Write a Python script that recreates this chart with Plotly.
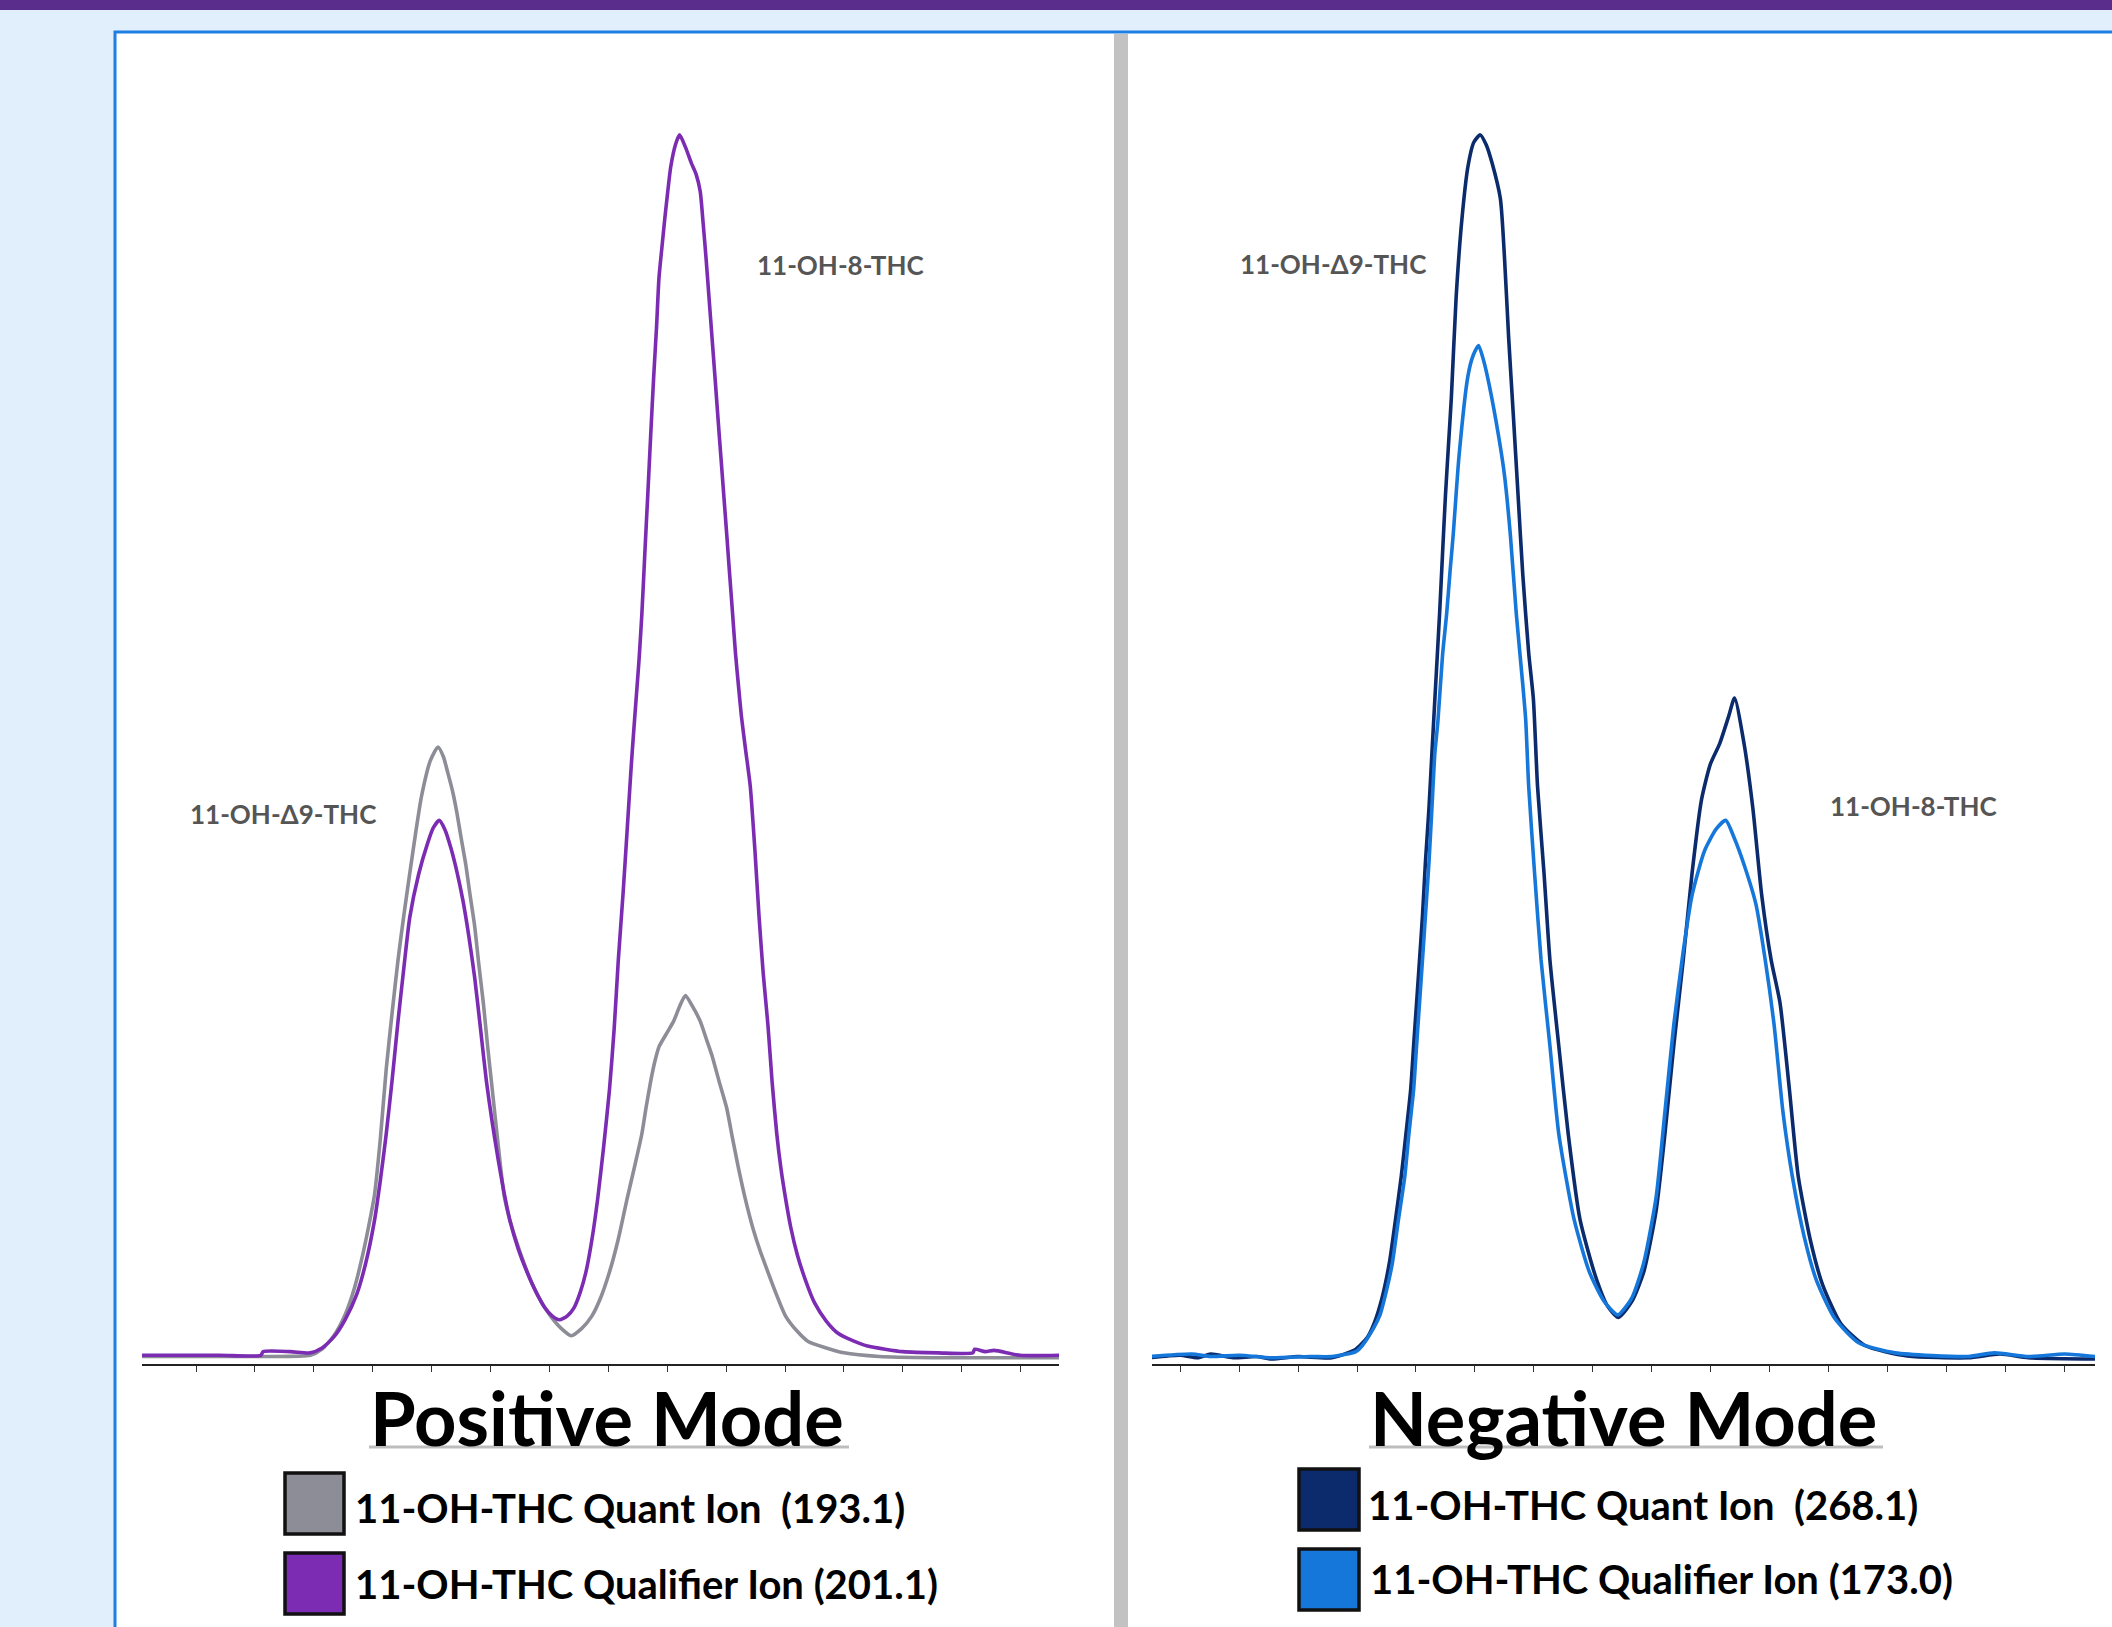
import plotly.graph_objects as go

W, H = 2112, 1627

# ---------------- data (x in tick units, y in % of tallest peak) ----------------
pos_quant_x = [-0.95, 1.10, 1.94, 2.14, 2.34, 2.53, 2.69, 2.83, 2.93, 3.03, 3.13, 3.23, 3.33, 3.43,
               3.53, 3.63, 3.73, 3.83, 3.98, 4.11, 4.20, 4.28, 4.36, 4.43, 4.50, 4.58, 4.65, 4.73,
               4.80, 4.88, 4.95, 5.03, 5.13, 5.23, 5.32, 5.42, 5.57, 5.72, 5.87, 6.02, 6.20, 6.37,
               6.55, 6.72, 6.87, 7.02, 7.17, 7.32, 7.45, 7.57, 7.64, 7.72, 7.79, 7.86, 7.99, 8.11,
               8.21, 8.31, 8.43, 8.56, 8.66, 8.76, 8.88, 9.01, 9.11, 9.21, 9.33, 9.46, 9.58, 9.71,
               9.86, 10.01, 10.20, 10.40, 10.70, 11.00, 11.60, 12.50, 14.67]
pos_quant_y = [0.2, 0.2, 0.3, 0.8, 1.9, 3.6, 5.8, 8.5, 10.8, 13.4, 18.0, 23.7, 28.3, 32.6,
               36.3, 39.7, 43.0, 46.0, 48.9, 50.0, 49.2, 47.8, 46.3, 44.6, 42.6, 40.4, 38.0, 35.4,
               32.3, 29.0, 25.6, 22.0, 17.5, 13.4, 11.5, 9.9, 7.8, 6.0, 4.6, 3.5, 2.5, 1.9,
               2.5, 3.5, 5.0, 7.1, 9.8, 13.1, 15.8, 18.4, 20.5, 22.7, 24.3, 25.5, 26.6, 27.6,
               28.8, 29.7, 28.8, 27.6, 26.2, 24.8, 22.7, 20.5, 18.0, 15.6, 13.0, 10.6, 8.8, 7.1,
               5.2, 3.5, 2.3, 1.4, 0.9, 0.5, 0.2, 0.1, 0.1]

pos_qual_x = [-0.95, 0.40, 1.10, 1.14, 1.60, 1.94, 2.14, 2.34, 2.53, 2.73, 2.88, 3.03, 3.13, 3.23,
              3.33, 3.43, 3.53, 3.63, 3.78, 3.93, 4.03, 4.13, 4.23, 4.33, 4.43, 4.53, 4.63, 4.73,
              4.83, 4.93, 5.03, 5.13, 5.23, 5.33, 5.47, 5.62, 5.77, 5.92, 6.05, 6.17, 6.30, 6.42,
              6.52, 6.62, 6.72, 6.82, 6.92, 7.02, 7.10, 7.17, 7.25, 7.32, 7.39, 7.45, 7.52, 7.57,
              7.62, 7.67, 7.72, 7.77, 7.82, 7.86, 7.91, 7.96, 8.01, 8.06, 8.14, 8.21, 8.31, 8.41,
              8.49, 8.56, 8.61, 8.66, 8.71, 8.76, 8.81, 8.86, 8.91, 8.96, 9.01, 9.06, 9.11, 9.16,
              9.21, 9.26, 9.33, 9.41, 9.49, 9.56, 9.63, 9.71, 9.78, 9.86, 9.93, 10.01, 10.10, 10.21,
              10.35, 10.50, 10.70, 10.90, 11.15, 11.40, 11.70, 12.00, 12.60, 13.19, 13.22, 13.40,
              13.55, 13.99, 14.67]
pos_qual_y = [0.3, 0.3, 0.3, 0.6, 0.6, 0.5, 0.9, 1.8, 3.2, 5.3, 7.8, 11.3, 14.6, 18.4,
              22.8, 27.6, 32.0, 36.1, 39.6, 42.1, 43.4, 44.0, 43.2, 41.7, 39.8, 37.5, 34.6, 31.2,
              27.0, 22.7, 19.3, 16.3, 13.6, 11.3, 9.0, 7.1, 5.5, 4.2, 3.5, 3.2, 3.5, 4.2,
              5.4, 7.1, 9.7, 13.1, 17.3, 22.0, 27.0, 32.6, 38.0, 43.2, 48.5, 52.5, 57.0, 60.9,
              65.8, 70.6, 75.5, 80.2, 84.4, 88.3, 90.8, 93.2, 95.4, 97.4, 99.2, 100.0, 99.0, 97.7,
              96.8, 95.4, 92.8, 89.9, 86.7, 83.5, 80.3, 77.0, 73.8, 70.6, 67.4, 64.1, 60.9, 57.6,
              55.0, 52.5, 49.8, 46.8, 41.5, 36.1, 31.5, 27.3, 22.7, 18.4, 15.6, 13.1, 10.7, 8.5,
              6.4, 4.6, 3.1, 2.1, 1.5, 1.06, 0.8, 0.6, 0.5, 0.5, 0.8, 0.6,
              0.7, 0.3, 0.3]

neg_quant_x = [-0.51, 0.00, 0.30, 0.52, 0.90, 1.30, 1.55, 2.00, 2.57, 2.98, 3.18, 3.29, 3.42, 3.55,
               3.65, 3.75, 3.83, 3.91, 3.96, 4.01, 4.06, 4.11, 4.16, 4.22, 4.27, 4.32, 4.40, 4.45,
               4.50, 4.55, 4.60, 4.68, 4.78, 4.88, 4.98, 5.09, 5.19, 5.29, 5.43, 5.50, 5.57, 5.65,
               5.73, 5.81, 5.91, 5.99, 6.06, 6.17, 6.27, 6.42, 6.58, 6.78, 7.04, 7.25, 7.43, 7.66,
               7.86, 8.07, 8.22, 8.37, 8.53, 8.68, 8.84, 8.99, 9.15, 9.30, 9.40, 9.56, 9.71, 9.86,
               10.02, 10.17, 10.33, 10.48, 10.69, 10.89, 11.20, 11.61, 12.33, 13.36, 13.90, 14.38, 15.51]
neg_quant_y = [0.1, 0.3, 0.1, 0.4, 0.1, 0.2, 0.0, 0.2, 0.1, 0.8, 1.8, 2.9, 4.9, 7.9,
               11.3, 14.9, 18.4, 22.0, 25.6, 29.1, 32.6, 36.2, 40.6, 45.0, 49.5, 53.9, 60.9, 65.8,
               70.6, 74.6, 78.6, 86.7, 93.2, 97.4, 99.4, 100.0, 99.2, 97.7, 94.8, 90.0, 83.5, 77.1,
               70.6, 64.1, 57.7, 53.9, 46.8, 39.7, 32.6, 25.6, 18.4, 11.4, 6.8, 4.3, 3.4, 4.7,
               7.1, 12.1, 18.4, 25.6, 32.6, 39.7, 45.7, 48.6, 50.3, 52.5, 54.0, 50.3, 45.0, 37.9,
               32.6, 29.1, 22.0, 14.9, 9.6, 6.1, 2.9, 1.1, 0.25, 0.1, 0.4, 0.1, 0.0]

neg_qual_x = [-0.51, 0.20, 0.52, 1.00, 1.55, 2.20, 2.57, 2.98, 3.09, 3.29, 3.39, 3.50, 3.60, 3.70,
              3.81, 3.88, 3.96, 4.01, 4.06, 4.11, 4.16, 4.22, 4.27, 4.32, 4.37, 4.45, 4.52, 4.58,
              4.63, 4.73, 4.88, 4.97, 5.06, 5.15, 5.24, 5.40, 5.50, 5.60, 5.70, 5.81, 5.86, 5.91,
              6.01, 6.12, 6.27, 6.42, 6.68, 6.94, 7.19, 7.42, 7.66, 7.86, 8.07, 8.22, 8.37, 8.53,
              8.68, 8.89, 9.09, 9.25, 9.40, 9.56, 9.76, 9.92, 10.07, 10.22, 10.38, 10.58, 10.79, 11.10,
              11.51, 12.12, 13.36, 13.80, 14.38, 15.00, 15.51]
neg_qual_y = [0.2, 0.4, 0.2, 0.3, 0.1, 0.2, 0.2, 0.6, 1.1, 2.6, 3.6, 5.6, 7.85, 11.3,
              14.9, 18.4, 22.0, 25.6, 29.1, 32.6, 36.2, 40.6, 45.0, 49.5, 52.0, 57.5, 60.9, 64.5,
              67.3, 73.8, 80.3, 82.0, 82.8, 81.5, 79.6, 75.4, 72.2, 67.3, 60.9, 55.1, 52.2, 46.8,
              39.7, 32.6, 25.6, 18.4, 11.4, 7.1, 4.7, 3.6, 5.0, 7.85, 13.2, 20.2, 27.3, 33.3,
              37.9, 41.5, 43.3, 44.0, 42.5, 40.4, 37.2, 32.6, 27.3, 20.2, 14.9, 10.0, 6.4, 3.3,
              1.3, 0.5, 0.2, 0.5, 0.2, 0.4, 0.2]

left_ticks = list(range(0, 15))
right_ticks = list(range(0, 16))

pos_title = "Positive Mode"
neg_title = "Negative Mode"
pos_legend = ["11-OH-THC Quant Ion  (193.1)", "11-OH-THC Qualifier Ion (201.1)"]
neg_legend = ["11-OH-THC Quant Ion  (268.1)", "11-OH-THC Qualifier Ion (173.0)"]
peak_labels = ["11-OH-\u03949-THC", "11-OH-8-THC"]

# ---------------- styles ----------------
GRAY = "#8C8D96"
PURPLE = "#7B2CB3"
NAVY = "#0B2B6C"
LBLUE = "#1677DA"
FONT = "Lato"
LW = 3.6


def fx(x):
    return x / W


def fy(y):
    return 1 - y / H


fig = go.Figure()
line_kw = dict(mode="lines", showlegend=False, hoverinfo="skip")
fig.add_trace(go.Scatter(x=pos_quant_x, y=pos_quant_y,
                         line=dict(color=GRAY, width=LW, shape="spline", smoothing=0.6),
                         xaxis="x", yaxis="y", **line_kw))
fig.add_trace(go.Scatter(x=pos_qual_x, y=pos_qual_y,
                         line=dict(color=PURPLE, width=LW, shape="spline", smoothing=0.6),
                         xaxis="x", yaxis="y", **line_kw))
fig.add_trace(go.Scatter(x=neg_quant_x, y=neg_quant_y,
                         line=dict(color=NAVY, width=LW, shape="spline", smoothing=0.6),
                         xaxis="x2", yaxis="y2", **line_kw))
fig.add_trace(go.Scatter(x=neg_qual_x, y=neg_qual_y,
                         line=dict(color=LBLUE, width=LW, shape="spline", smoothing=0.6),
                         xaxis="x2", yaxis="y2", **line_kw))

ydom = [fy(1363.5), fy(37)]
yr = [-0.37, 108]
xax = dict(showgrid=False, zeroline=False, showticklabels=False, ticks="outside",
           ticklen=6, tickwidth=1, tickcolor="#333333", showline=True,
           linecolor="#222222", linewidth=2, fixedrange=True)
yax = dict(visible=False, range=yr, domain=ydom, fixedrange=True)

shapes = []
# page decoration
shapes.append(dict(type="rect", xref="paper", yref="paper", x0=-0.01, x1=1.01,
                   y0=fy(10), y1=1.01, fillcolor="#5A2D8C", line=dict(width=0), layer="below"))
shapes.append(dict(type="rect", xref="paper", yref="paper", x0=fx(115), x1=1.02,
                   y0=-0.02, y1=fy(32), fillcolor="white",
                   line=dict(color="#1E7FE3", width=3), layer="below"))
shapes.append(dict(type="rect", xref="paper", yref="paper", x0=fx(1114), x1=fx(1128),
                   y0=-0.01, y1=fy(34), fillcolor="#C2C2C2", line=dict(width=0), layer="below"))
# title underlines
for x0, x1 in [(369, 849), (1369, 1883)]:
    shapes.append(dict(type="line", xref="paper", yref="paper", x0=fx(x0), x1=fx(x1),
                       y0=fy(1447), y1=fy(1447), line=dict(color="#BDBDBD", width=3)))
# legend swatches
for (x0, x1, y0, y1, c) in [(285, 344, 1473, 1534, GRAY), (285, 344, 1553, 1614, PURPLE),
                            (1299, 1359, 1469, 1530, NAVY), (1299, 1359, 1549, 1610, LBLUE)]:
    shapes.append(dict(type="rect", xref="paper", yref="paper", x0=fx(x0), x1=fx(x1),
                       y0=fy(y1), y1=fy(y0), fillcolor=c, line=dict(color="#111111", width=3.5)))

ann = []


def add_text(text, x, y, size, color="#000000", xanchor="center"):
    ann.append(dict(text=text, x=fx(x), y=fy(y), xref="paper", yref="paper",
                    xanchor=xanchor, yanchor="middle", showarrow=False,
                    font=dict(family=FONT, size=size, color=color)))


add_text("<b>" + peak_labels[1] + "</b>", 840, 265, 26, "#555555")
add_text("<b>" + peak_labels[0] + "</b>", 283, 814, 26, "#555555")
add_text("<b>" + peak_labels[0] + "</b>", 1333, 264, 26, "#555555")
add_text("<b>" + peak_labels[1] + "</b>", 1913, 806, 26, "#555555")

add_text("<b>" + pos_title + "</b>", 607, 1417, 74)
add_text("<b>" + neg_title + "</b>", 1623, 1417, 74)

add_text("<b>" + pos_legend[0] + "</b>", 353, 1508, 40, xanchor="left")
add_text("<b>" + pos_legend[1] + "</b>", 353, 1584, 40, xanchor="left")
add_text("<b>" + neg_legend[0] + "</b>", 1366, 1505, 40, xanchor="left")
add_text("<b>" + neg_legend[1] + "</b>", 1368, 1579, 40, xanchor="left")

fig.update_layout(
    width=W, height=H,
    margin=dict(l=0, r=0, t=0, b=0),
    paper_bgcolor="#E1EEFB",
    plot_bgcolor="rgba(0,0,0,0)",
    showlegend=False,
    xaxis=dict(domain=[fx(142), fx(1059)], range=[-0.917, 14.652], tickvals=left_ticks,
               anchor="y", **xax),
    yaxis=dict(anchor="x", **yax),
    xaxis2=dict(domain=[fx(1152), fx(2095)], range=[-0.475, 15.51], tickvals=right_ticks,
                anchor="y2", **xax),
    yaxis2=dict(anchor="x2", **yax),
    shapes=shapes,
    annotations=ann,
)

fig.write_html("out.html", config={"displayModeBar": False},
               post_script="document.body.style.margin='0';document.body.style.overflow='hidden';")
